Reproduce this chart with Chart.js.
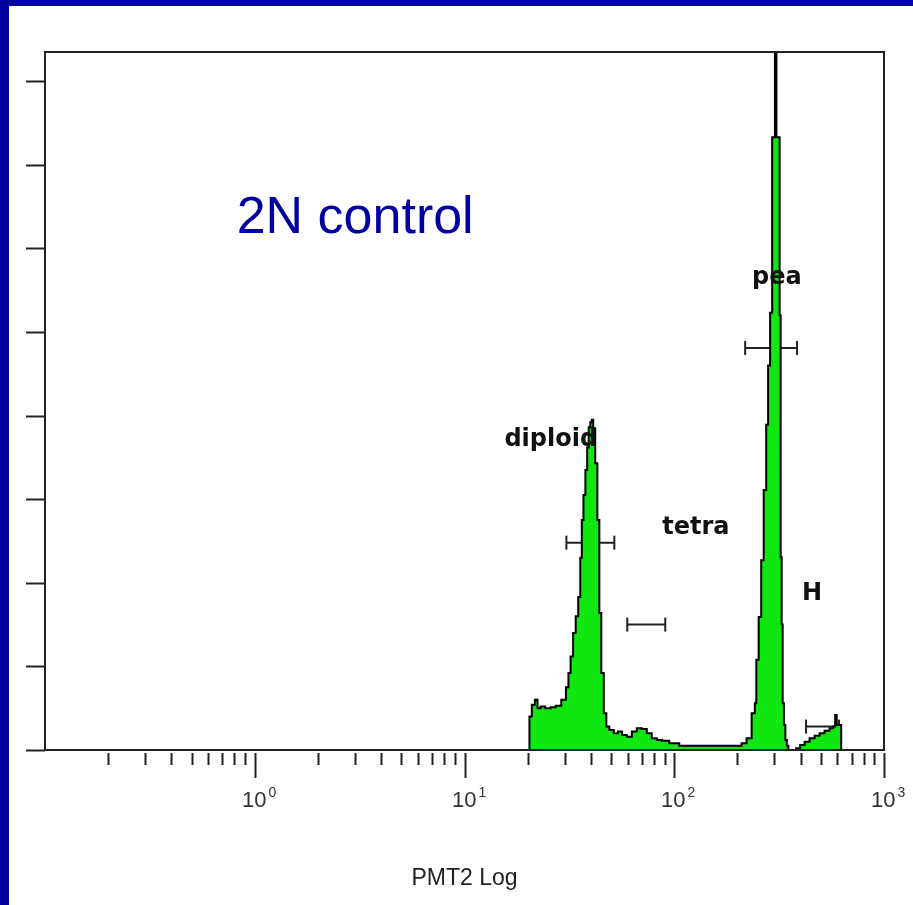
<!DOCTYPE html>
<html>
<head>
<meta charset="utf-8">
<script src="https://cdn.jsdelivr.net/npm/chart.js@4"></script>
<style>
  body { margin: 0; background: #00009c; width: 913px; height: 905px; overflow: hidden; }
  #wrap { position: absolute; left: 9px; top: 6px; width: 904px; height: 899px; background: #fff; }
</style>
</head>
<body>
<div id="wrap"><canvas id="myChart"></canvas></div>
<script>
// histogram: PMT2 channel (log) and counts
const channel = [20.2, 20.6, 21.3, 22.0, 22.6, 23.5, 25.0, 26.5, 28.0, 29.9, 31.0, 31.6, 32.5, 33.4, 34.4, 35.3, 36.0, 36.5, 37.3, 38.1, 38.8, 39.4, 40.2, 40.7, 41.5, 42.5, 43.5, 44.4, 45.4, 46.9, 48.0, 50.1, 52.9, 55.0, 57.8, 61.1, 64.5, 68.1, 72.0, 76.0, 80.3, 85.0, 89.6, 100, 111.6, 131.6, 150, 175, 204, 215, 227.6, 240.4, 244, 248.4, 256.9, 262.6, 271.3, 277.4, 283, 289.9, 296, 300, 304, 306, 308, 316, 320, 323.4, 327, 330.6, 336, 341.5, 347, 353, 372.8, 390, 407, 430, 454, 480, 507, 535, 565, 580, 590, 600, 615, 624, 626];
const counts = [0, 40, 54, 60, 50, 52, 50, 51, 53, 60, 75, 92, 112, 140, 160, 183, 230, 275, 305, 335, 362, 386, 392, 395, 385, 343, 275, 164, 92, 44, 28, 24, 20, 22, 18, 16, 22, 26, 25, 20, 14, 12, 11, 8, 5, 5, 5, 5, 5, 8, 14, 44, 56, 108, 159, 227, 311, 389, 460, 523, 733, 733, 850, 850, 733, 733, 520, 231, 150, 56, 30, 12, 5, 0, 0, 2, 6, 10, 14, 17, 20, 23, 26, 28, 42, 30, 30, 30, 0];

// gates (marker bars)
const gateLo = [30.6, 59.7, 217.8, 425];
const gateHi = [51.8, 90.6, 385, 610];
const gateY = [248, 150, 481, 28];

const xMin = 0.1, xMax = 1000;
const yMax = 835;

const points = channel.map((c, i) => ({ x: c, y: counts[i] }));

const gateSets = gateLo.map((lo, i) => ({
    data: [{ x: lo, y: gateY[i] }, { x: gateHi[i], y: gateY[i] }],
    borderColor: '#222',
    borderWidth: 2,
    pointStyle: 'line',
    pointRotation: 90,
    pointRadius: 7,
    pointBorderColor: '#222',
    pointBorderWidth: 2,
    fill: false
}));

// texts placed in data space
const notes = [
    { text: 'diploid', x: 15.5, y: 371, font: 'bold 24px "DejaVu Sans"', color: '#111' },
    { text: 'tetra', x: 87.7, y: 266, font: 'bold 24px "DejaVu Sans"', color: '#111' },
    { text: 'pea', x: 235, y: 565, font: 'bold 24px "DejaVu Sans"', color: '#111' },
    { text: 'H', x: 407, y: 187, font: 'bold 24px "DejaVu Sans"', color: '#111' },
    { text: '2N control', x: 0.82, y: 618, font: '52px "Liberation Sans"', color: '#0000a0', base: 'alphabetic' }
];

const isDecade = v => Math.abs(Math.log10(v) - Math.round(Math.log10(v))) < 1e-6;

const decor = {
    id: 'decor',
    afterDraw(chart) {
        const ctx = chart.ctx;
        const a = chart.chartArea;
        const xs = chart.scales.x, ys = chart.scales.y;
        ctx.save();
        ctx.strokeStyle = '#222';
        ctx.lineWidth = 2;
        ctx.strokeRect(a.left, a.top, a.right - a.left, a.bottom - a.top);
        // x ticks and decade labels
        xs.ticks.forEach(t => {
            if (t.value <= xMin) return;
            const px = Math.round(xs.getPixelForValue(t.value)) + 0.5;
            const major = isDecade(t.value);
            ctx.beginPath();
            ctx.moveTo(px, a.bottom + 3);
            ctx.lineTo(px, a.bottom + (major ? 28 : 15));
            ctx.stroke();
            if (major) {
                ctx.fillStyle = '#333';
                ctx.textBaseline = 'alphabetic';
                ctx.font = '22px "Liberation Sans"';
                ctx.textAlign = 'right';
                ctx.fillText('10', px + 11, a.bottom + 57);
                ctx.font = '14px "Liberation Sans"';
                ctx.textAlign = 'left';
                ctx.fillText(String(Math.round(Math.log10(t.value))), px + 13, a.bottom + 47);
            }
        });
        // y ticks
        ys.ticks.forEach(t => {
            if (t.value % 100 !== 0) return;
            const py = Math.round(ys.getPixelForValue(t.value)) + 0.5;
            ctx.beginPath();
            ctx.moveTo(a.left - 19, py);
            ctx.lineTo(a.left, py);
            ctx.stroke();
        });
        notes.forEach(n => {
            ctx.font = n.font;
            ctx.fillStyle = n.color;
            ctx.textAlign = 'left';
            ctx.textBaseline = n.base || 'middle';
            ctx.fillText(n.text, xs.getPixelForValue(n.x), ys.getPixelForValue(n.y));
        });
        ctx.restore();
    }
};

const config = {
    type: 'line',
    data: {
        datasets: [{
            data: points,
            borderColor: '#000',
            borderWidth: 2,
            backgroundColor: '#10e610',
            fill: 'origin',
            stepped: 'middle',
            pointRadius: 0
        }, ...gateSets]
    },
    options: {
        responsive: true,
        maintainAspectRatio: false,
        animation: false,
        layout: { padding: { top: 46, right: 29, left: 0, bottom: 0 } },
        plugins: { legend: { display: false }, tooltip: { enabled: false } },
        scales: {
            x: {
                type: 'logarithmic',
                min: xMin,
                max: xMax,
                afterBuildTicks(s) {
                    const t = [];
                    for (let e = -1; e <= 2; e++) {
                        for (let k = 1; k <= 9; k++) t.push({ value: k * Math.pow(10, e) });
                    }
                    t.push({ value: 1000 });
                    s.ticks = t;
                },
                afterFit(s) { s.height = 155; s.paddingLeft = 0; s.paddingRight = 0; },
                grid: { display: false, drawTicks: false },
                border: { display: false },
                ticks: { display: false, autoSkip: false, maxRotation: 0 },
                title: {
                    display: true,
                    text: 'PMT2 Log',
                    color: '#222',
                    font: { family: 'Liberation Sans', size: 23 },
                    padding: { top: 0, bottom: 13 }
                }
            },
            y: {
                min: 0,
                max: yMax,
                ticks: { display: false, stepSize: 100 },
                afterFit(s) { s.width = 36; },
                grid: { display: false, drawTicks: false },
                border: { display: false }
            }
        }
    },
    plugins: [decor]
};

const myChart = new Chart(document.getElementById('myChart'), config);
</script>
</body>
</html>
